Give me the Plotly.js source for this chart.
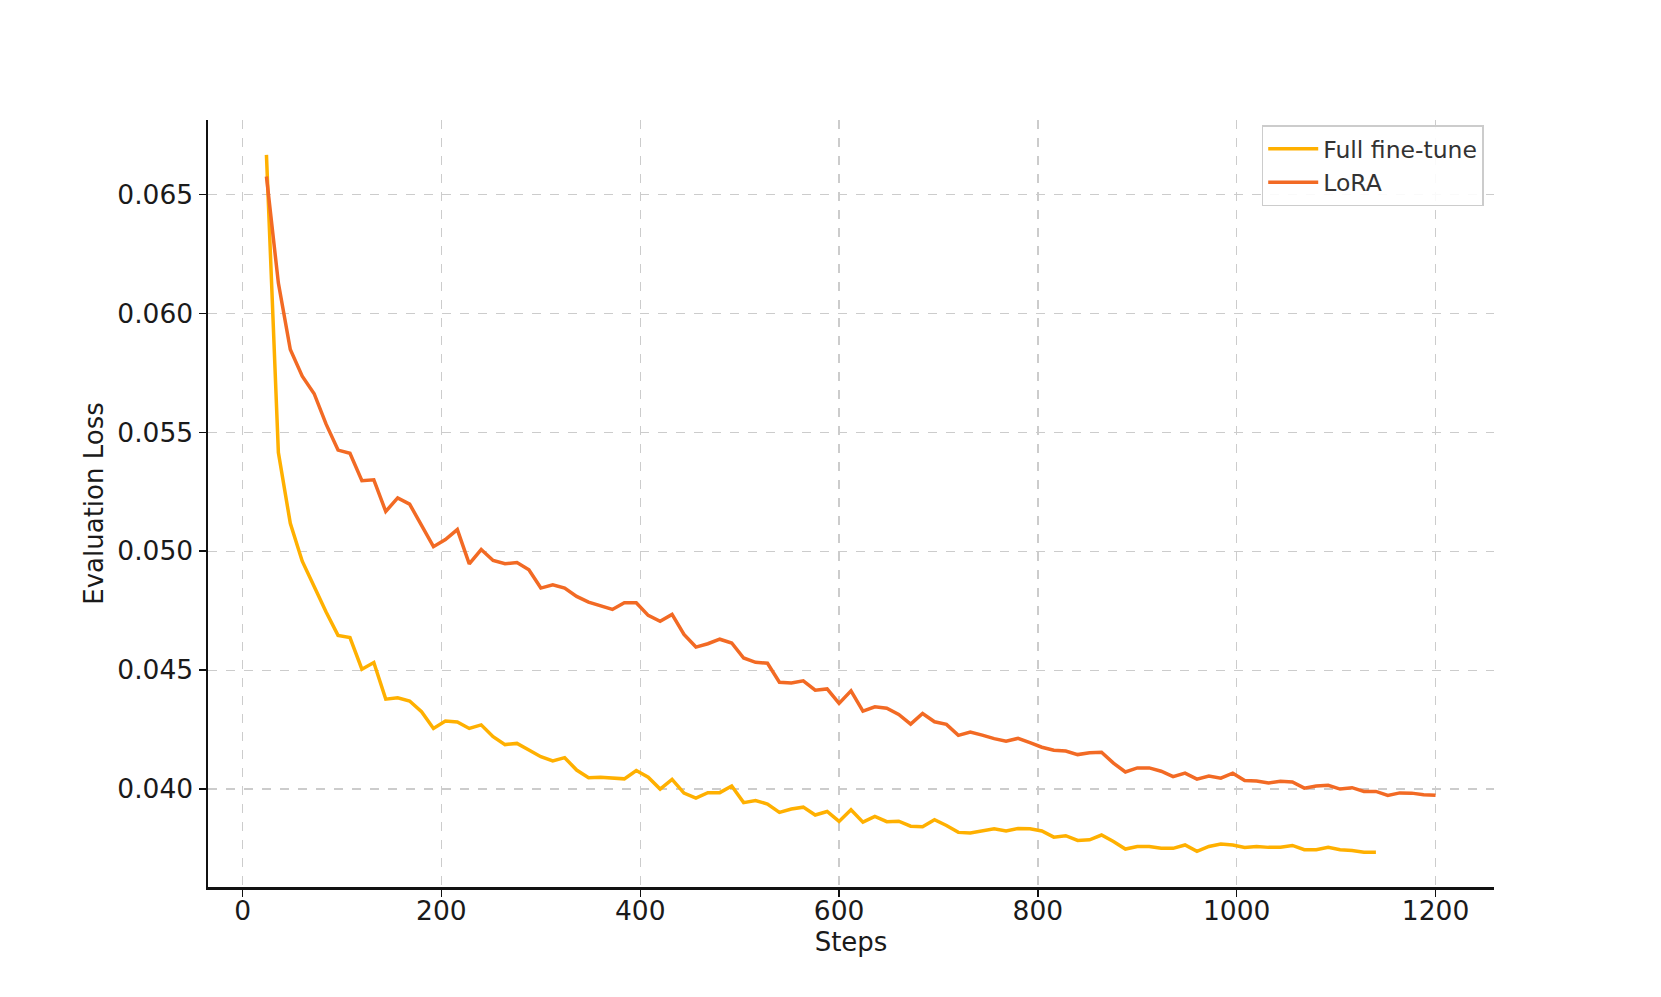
<!DOCTYPE html>
<html>
<head>
<meta charset="utf-8">
<script src="https://cdn.plot.ly/plotly-3.0.1.min.js"></script>
<style>
  body { margin: 0; background: #fff; }
  #chart { width: 1661px; height: 997px; }
</style>
</head>
<body>
<div id="chart"></div>
<script>
// evaluation steps (every 12 steps)
const loraSteps = [24, 36, 48, 60, 72, 84, 96, 108, 120, 132, 144, 156, 168, 180, 192, 204, 216, 228, 240, 252,
  264, 276, 288, 300, 312, 324, 336, 348, 360, 372, 384, 396, 408, 420, 432, 444, 456, 468, 480, 492,
  504, 516, 528, 540, 552, 564, 576, 588, 600, 612, 624, 636, 648, 660, 672, 684, 696, 708, 720, 732,
  744, 756, 768, 780, 792, 804, 816, 828, 840, 852, 864, 876, 888, 900, 912, 924, 936, 948, 960, 972,
  984, 996, 1008, 1020, 1032, 1044, 1056, 1068, 1080, 1092, 1104, 1116, 1128, 1140, 1152, 1164, 1176, 1188, 1200];

const loraLoss = [0.06575, 0.06127, 0.05848, 0.05736, 0.05662, 0.05534, 0.05425, 0.05412, 0.05296, 0.05300,
  0.05167, 0.05224, 0.05198, 0.05112, 0.05019, 0.05049, 0.05091, 0.04947, 0.05007, 0.04961,
  0.04947, 0.04952, 0.04922, 0.04845, 0.04859, 0.04845, 0.04810, 0.04786, 0.04772, 0.04755,
  0.04783, 0.04783, 0.04730, 0.04705, 0.04734, 0.04650, 0.04597, 0.04611, 0.04630, 0.04614,
  0.04551, 0.04533, 0.04529, 0.04449, 0.04446, 0.04455, 0.04416, 0.04421, 0.04360, 0.04413,
  0.04328, 0.04346, 0.04340, 0.04314, 0.04273, 0.04318, 0.04283, 0.04272, 0.04226, 0.04240,
  0.04227, 0.04212, 0.04201, 0.04213, 0.04195, 0.04176, 0.04163, 0.04160, 0.04145, 0.04153,
  0.04155, 0.04109, 0.04072, 0.04089, 0.04089, 0.04075, 0.04052, 0.04067, 0.04042, 0.04055,
  0.04046, 0.04067, 0.04036, 0.04034, 0.04026, 0.04033, 0.04030, 0.04004, 0.04013, 0.04016,
  0.04000, 0.04006, 0.03990, 0.03990, 0.03973, 0.03984, 0.03983, 0.03976, 0.03974];

// full fine-tune stops earlier
const fullSteps = [24, 36, 48, 60, 72, 84, 96, 108, 120, 132, 144, 156, 168, 180, 192, 204, 216, 228, 240, 252,
  264, 276, 288, 300, 312, 324, 336, 348, 360, 372, 384, 396, 408, 420, 432, 444, 456, 468, 480, 492,
  504, 516, 528, 540, 552, 564, 576, 588, 600, 612, 624, 636, 648, 660, 672, 684, 696, 708, 720, 732,
  744, 756, 768, 780, 792, 804, 816, 828, 840, 852, 864, 876, 888, 900, 912, 924, 936, 948, 960, 972,
  984, 996, 1008, 1020, 1032, 1044, 1056, 1068, 1080, 1092, 1104, 1116, 1128, 1140];

const fullLoss = [0.06666, 0.05415, 0.05117, 0.04958, 0.04852, 0.04744, 0.04646, 0.04637, 0.04504, 0.04532,
  0.04378, 0.04384, 0.04370, 0.04325, 0.04255, 0.04286, 0.04282, 0.04255, 0.04270, 0.04220,
  0.04187, 0.04192, 0.04164, 0.04136, 0.04118, 0.04132, 0.04080, 0.04048, 0.04050, 0.04048,
  0.04043, 0.04078, 0.04050, 0.04000, 0.04041, 0.03983, 0.03962, 0.03985, 0.03985, 0.04013,
  0.03943, 0.03952, 0.03937, 0.03902, 0.03916, 0.03924, 0.03891, 0.03906, 0.03864, 0.03913,
  0.03861, 0.03885, 0.03863, 0.03865, 0.03844, 0.03842, 0.03871, 0.03847, 0.03818, 0.03815,
  0.03824, 0.03833, 0.03824, 0.03834, 0.03833, 0.03824, 0.03798, 0.03804, 0.03784, 0.03787,
  0.03807, 0.03780, 0.03748, 0.03759, 0.03759, 0.03751, 0.03751, 0.03765, 0.03738, 0.03759,
  0.03769, 0.03765, 0.03755, 0.03759, 0.03755, 0.03756, 0.03763, 0.03745, 0.03745, 0.03755,
  0.03745, 0.03742, 0.03735, 0.03735];

const xTicks = [0, 200, 400, 600, 800, 1000, 1200];
const yTicks = [0.040, 0.045, 0.050, 0.055, 0.060, 0.065];

const font = "DejaVu Sans, sans-serif";

let traces = [
  { x: fullSteps, y: fullLoss, type: "scatter", mode: "lines", name: "Full fine-tune",
    line: { color: "#ffb000", width: 3.5 } },
  { x: loraSteps, y: loraLoss, type: "scatter", mode: "lines", name: "LoRA",
    line: { color: "#f26a24", width: 3.5 } }
];

let axisCommon = {
  showline: true, linecolor: "#111", linewidth: 2.5, mirror: false,
  ticks: "outside", ticklen: 7, tickwidth: 1.5, tickcolor: "#111",
  showgrid: true, gridcolor: "#cccccc", griddash: "dash", gridwidth: 1.2,
  zeroline: false,
  tickfont: { family: font, size: 26.5, color: "#1a1a1a" }
};

let layout = {
  width: 1661, height: 997,
  paper_bgcolor: "#fff", plot_bgcolor: "#fff",
  margin: { l: 208, r: 167, t: 120, b: 110 },
  showlegend: true,
  legend: {
    x: 0.992, y: 0.993, xanchor: "right", yanchor: "top",
    bgcolor: "rgba(255,255,255,0.9)", bordercolor: "#cccccc", borderwidth: 1.5,
    font: { family: font, size: 23.5, color: "#333" },
    itemwidth: 50, tracegroupgap: 0
  },
  xaxis: Object.assign({}, axisCommon, {
    range: [-34.8, 1258.8], tickvals: xTicks, ticktext: xTicks.map(String),
    ticklabelstandoff: -8,
    title: { text: "Steps", font: { family: font, size: 26, color: "#1a1a1a" }, standoff: 8 }
  }),
  yaxis: Object.assign({}, axisCommon, {
    range: [0.035884, 0.068126], tickvals: yTicks, ticktext: yTicks.map(v => v.toFixed(3)),
    title: { text: "Evaluation Loss", font: { family: font, size: 26, color: "#1a1a1a" }, standoff: 6 }
  })
};

Plotly.newPlot("chart", traces, layout, { displayModeBar: false, staticPlot: true });
</script>
</body>
</html>
